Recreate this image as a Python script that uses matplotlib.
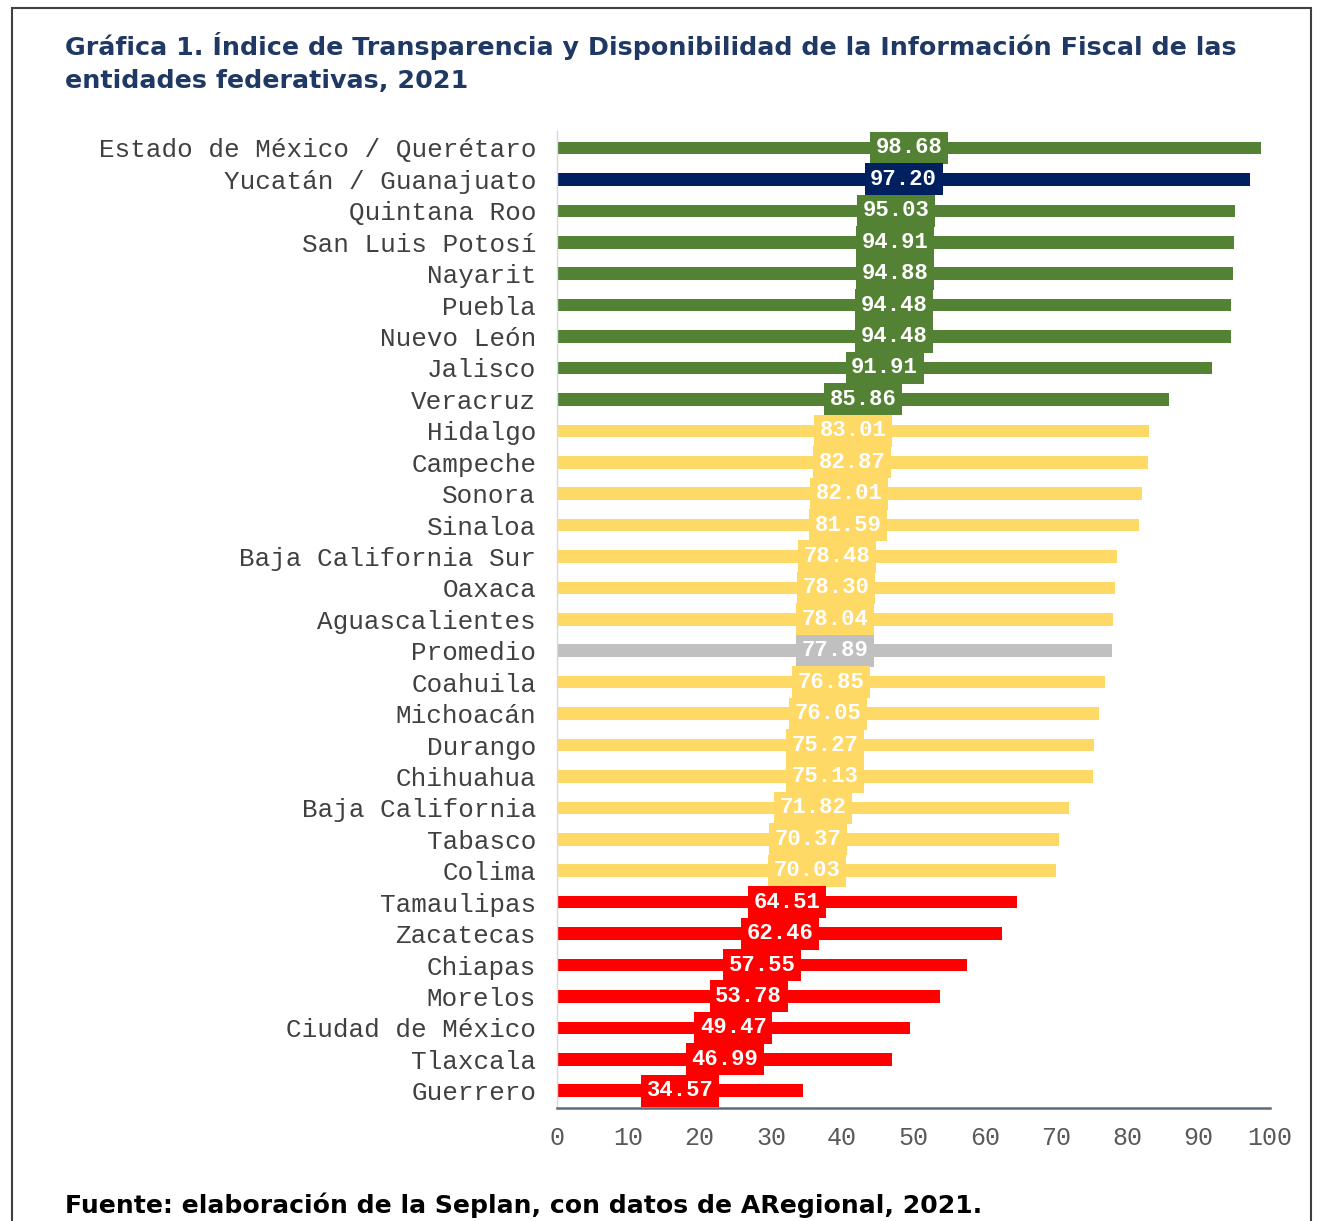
import matplotlib
matplotlib.use("Agg")
import matplotlib.pyplot as plt
from matplotlib.patches import Rectangle

categories = ["Estado de México / Querétaro", "Yucatán / Guanajuato", "Quintana Roo",
              "San Luis Potosí", "Nayarit", "Puebla", "Nuevo León", "Jalisco", "Veracruz",
              "Hidalgo", "Campeche", "Sonora", "Sinaloa", "Baja California Sur", "Oaxaca",
              "Aguascalientes", "Promedio", "Coahuila", "Michoacán", "Durango", "Chihuahua",
              "Baja California", "Tabasco", "Colima", "Tamaulipas", "Zacatecas", "Chiapas",
              "Morelos", "Ciudad de México", "Tlaxcala", "Guerrero"]
values = [98.68, 97.20, 95.03, 94.91, 94.88, 94.48, 94.48, 91.91, 85.86,
          83.01, 82.87, 82.01, 81.59, 78.48, 78.30, 78.04, 77.89, 76.85, 76.05,
          75.27, 75.13, 71.82, 70.37, 70.03, 64.51, 62.46, 57.55, 53.78, 49.47,
          46.99, 34.57]
groups = ["alto", "yucatan", "alto", "alto", "alto", "alto", "alto", "alto", "alto",
          "medio", "medio", "medio", "medio", "medio", "medio", "medio", "promedio",
          "medio", "medio", "medio", "medio", "medio", "medio", "medio",
          "bajo", "bajo", "bajo", "bajo", "bajo", "bajo", "bajo"]
xticks = [0, 10, 20, 30, 40, 50, 60, 70, 80, 90, 100]

palette = {"alto": "#548235", "yucatan": "#002060", "medio": "#FFD966",
           "promedio": "#C0C0C0", "bajo": "#FF0000"}
colors = [palette[g] for g in groups]

W, H = 1317, 1221
fig = plt.figure(figsize=(W / 100, H / 100), dpi=100)
fig.patch.set_facecolor("white")

ax = fig.add_axes([557 / W, 1 - 1108 / H, (1270 - 557) / W, (1108 - 130.7) / H])
y = list(range(len(categories)))
ax.barh(y, values, height=0.4, color=colors, zorder=2)
for yi, v, c in zip(y, values, colors):
    ax.text(v / 2, yi, f"{v:.2f}", ha="center", va="center", color="white",
            fontsize=16, fontweight="bold", family="Liberation Mono", zorder=3,
            bbox=dict(facecolor=c, edgecolor="none", boxstyle="square,pad=0.25"))

ax.set_xlim(0, 100)
ax.set_ylim(len(categories) - 0.45, -0.55)
ax.set_yticks(y)
ax.set_yticklabels(categories, family="Liberation Mono", fontsize=18.7, color="#404040")
ax.set_xticks(xticks)
ax.set_xticklabels([str(t) for t in xticks], family="Liberation Mono", fontsize=18,
                   color="#595959")
ax.tick_params(axis="y", length=0, pad=15)
ax.tick_params(axis="x", length=0, pad=13)
for s in ["top", "right"]:
    ax.spines[s].set_visible(False)
ax.spines["left"].set_color("#D9D9D9")
ax.spines["left"].set_linewidth(1)
ax.spines["bottom"].set_color("#5B6B7B")
ax.spines["bottom"].set_linewidth(1.8)

fig.text(65 / W, 1 - 32 / H,
         "Gráfica 1. Índice de Transparencia y Disponibilidad de la Información Fiscal de las\nentidades federativas, 2021",
         ha="left", va="top", fontsize=18.25, fontweight="bold", color="#1F3864",
         family="DejaVu Sans", linespacing=1.5)
fig.text(65 / W, 1 - 1205 / H,
         "Fuente: elaboración de la Seplan, con datos de ARegional, 2021.",
         ha="left", va="center", fontsize=18.1, fontweight="bold", color="black",
         family="DejaVu Sans")

fig.patches.append(Rectangle((12 / W, -0.02), (1311 - 12) / W, 1 - 8 / H + 0.02,
                             transform=fig.transFigure, fill=False,
                             edgecolor="#404040", linewidth=1.5))

fig.savefig("out.png", dpi=100)
